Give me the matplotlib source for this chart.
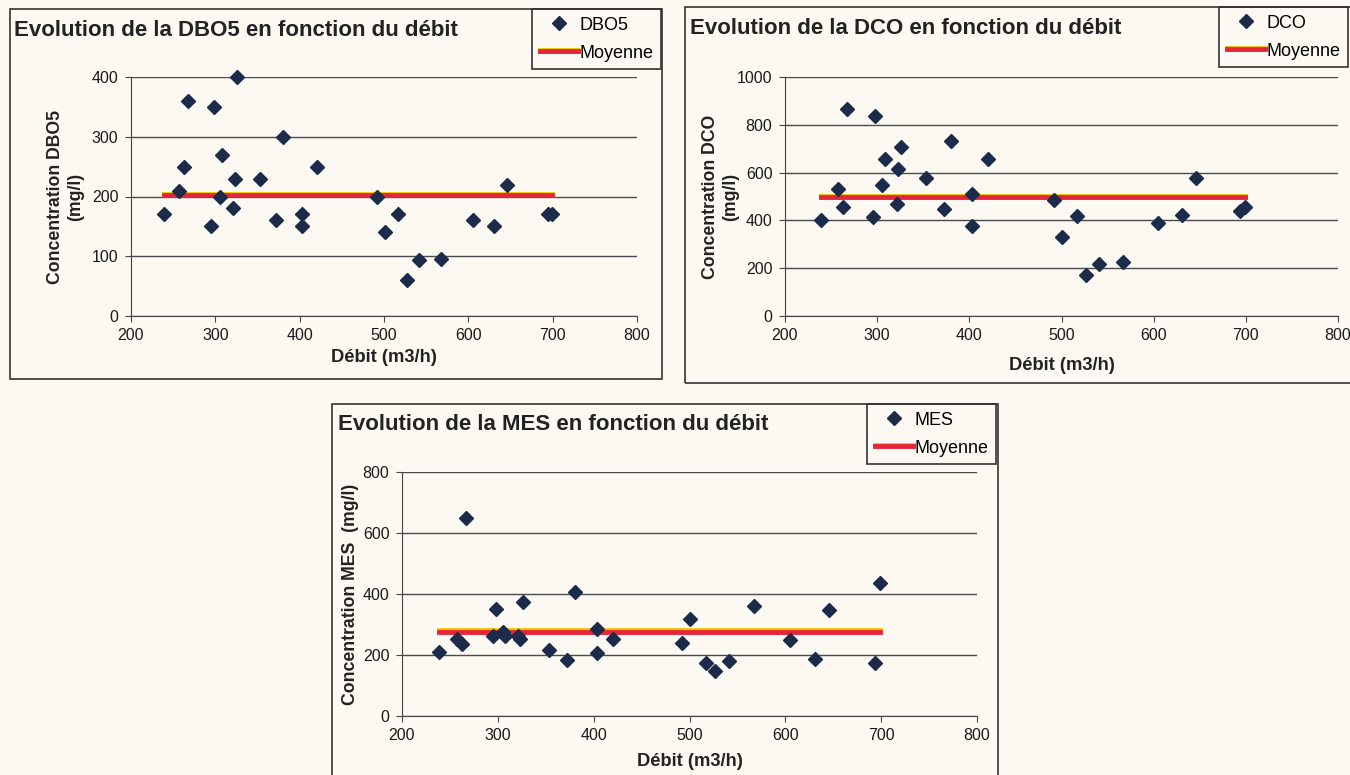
import numpy as np
import matplotlib.pyplot as plt
import matplotlib.patheffects as pe
from matplotlib.patches import Rectangle

# débit commun aux trois graphes (m3/h)
debit = [239, 257, 263, 267, 295, 298, 305, 308, 321, 323, 326, 353, 372, 380,
         403, 403, 420, 492, 501, 517, 527, 541, 567, 605, 631, 646, 694, 699]
dbo5 = [170, 210, 250, 360, 150, 350, 200, 270, 180, 230, 400, 230, 160, 300,
        170, 150, 250, 200, 140, 170, 61, 94, 96, 160, 150, 220, 171, 171]
dco = [400, 532, 454, 866, 416, 838, 550, 656, 470, 614, 709, 578, 448, 734,
       512, 377, 656, 484, 332, 417, 172, 219, 226, 388, 423, 578, 440, 455]
mes = [210, 252, 235, 650, 263, 350, 276, 262, 262, 252, 374, 216, 183, 407,
       285, 205, 252, 240, 318, 175, 146, 179, 361, 249, 188, 347, 173, 435]
x_ticks = [200, 300, 400, 500, 600, 700, 800]

plt.rcParams['font.family'] = ['Liberation Sans', 'DejaVu Sans']

W, H = 1350, 775
bg = '#fbf9f1'
navy = '#1c2b4a'
fig = plt.figure(figsize=(13.5, 7.75), dpi=100)
fig.patch.set_facecolor(bg)


def fx(x):
    return x / W


def fy(y):
    return 1 - y / H


def cadre(x0, y0, x1, y1):
    fig.patches.append(Rectangle((fx(x0), fy(y1)), (x1 - x0) / W, (y1 - y0) / H,
                                 transform=fig.transFigure, fill=False,
                                 edgecolor='#333333', lw=1.2))


def graphe(plot_px, ymax, ystep, values, nom, title, title_xy, ylabel, ylab_x,
           xlab_top, leg_xy):
    x0, y0, x1, y1 = plot_px
    ax = fig.add_axes([fx(x0), fy(y1), (x1 - x0) / W, (y1 - y0) / H])
    ax.set_facecolor('none')
    ax.set_xlim(200, 800)
    ax.set_ylim(0, ymax)
    ax.set_xticks(x_ticks)
    ax.set_yticks(np.arange(0, ymax + 1, ystep))
    ax.yaxis.grid(True, color='#4a4a4a', lw=1)
    ax.set_axisbelow(True)
    for s in ['top', 'right']:
        ax.spines[s].set_visible(False)
    for s in ['left', 'bottom']:
        ax.spines[s].set_color('#444444')
    ax.tick_params(direction='out', length=4, color='#444444', labelsize=11.5,
                   pad=5, labelcolor='#1a1a1a')

    moy = np.mean(values)
    effet = [pe.SimpleLineShadow(offset=(0, 1.0), shadow_color='#f2c400',
                                 alpha=1, rho=1), pe.Normal()]
    ax.plot([min(debit), max(debit)], [moy, moy], color='#e3263a', lw=3.5,
            label='Moyenne', zorder=2, path_effects=effet)
    ax.plot(debit, values, 'D', ms=7.5, color=navy, label=nom, zorder=3,
            clip_on=False)

    h, l = ax.get_legend_handles_labels()
    leg = ax.legend(h[::-1], l[::-1], loc='upper left',
                    bbox_to_anchor=(fx(leg_xy[0]), fy(leg_xy[1])),
                    bbox_transform=fig.transFigure, frameon=True, fancybox=False,
                    edgecolor='#333333', facecolor=bg, framealpha=1,
                    borderaxespad=0, handlelength=2.1, fontsize=13,
                    labelspacing=0.62, borderpad=0.42, handletextpad=0.12)
    leg.get_frame().set_linewidth(1.2)
    leg.get_lines()[1].set_path_effects(effet)

    fig.text(fx(title_xy[0]), fy(title_xy[1]), title, fontsize=16,
             weight='bold', ha='left', va='center', color='#222222')
    ax.set_xlabel('Débit (m3/h)', fontsize=13.2, weight='bold', color='#222222')
    ax.xaxis.set_label_coords(0.5, (y1 - xlab_top) / (y1 - y0))
    ax.set_ylabel(ylabel, fontsize=12.7, weight='bold', color='#222222',
                  linespacing=1.2)
    ax.yaxis.set_label_coords((ylab_x - x0) / (x1 - x0), 0.5)
    return ax


cadre(10, 9, 662, 379)
cadre(685, 7, 1362, 383)
cadre(332, 404, 998, 790)

graphe((131, 77, 637, 316), 400, 100, dbo5, 'DBO5',
       'Evolution de la DBO5 en fonction du débit', (14, 30),
       'Concentration DBO5\n(mg/l)', 84, 349, (532, 9))
graphe((785, 77, 1338, 316), 1000, 200, dco, 'DCO',
       'Evolution de la DCO en fonction du débit', (690, 29),
       'Concentration DCO\n(mg/l)', 739, 357, (1219, 7))
graphe((402, 472, 977, 716), 800, 200, mes, 'MES',
       'Evolution de la MES en fonction du débit', (338, 424),
       'Concentration MES  (mg/l)', 359, 753, (867, 404))

fig.savefig('out.png', dpi=100, facecolor=bg)
